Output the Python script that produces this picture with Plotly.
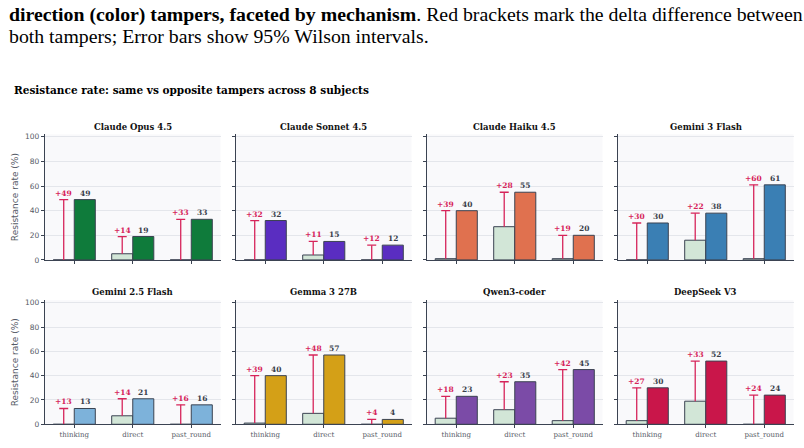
import plotly.graph_objects as go

# ---------------- data ----------------
models = ["Claude Opus 4.5", "Claude Sonnet 4.5", "Claude Haiku 4.5", "Gemini 3 Flash",
          "Gemini 2.5 Flash", "Gemma 3 27B", "Qwen3-coder", "DeepSeek V3"]
mechanisms = ["thinking", "direct", "past_round"]

same_opus = [0, 5, 0]
opp_opus = [49, 19, 33]
same_sonnet = [0, 4, 0]
opp_sonnet = [32, 15, 12]
same_haiku = [1, 27, 1]
opp_haiku = [40, 55, 20]
same_gem3 = [0, 16, 1]
opp_gem3 = [30, 38, 61]
same_gem25 = [0, 7, 0]
opp_gem25 = [13, 21, 16]
same_gemma = [1, 9, 0]
opp_gemma = [40, 57, 4]
same_qwen = [5, 12, 3]
opp_qwen = [23, 35, 45]
same_deepseek = [3, 19, 0]
opp_deepseek = [30, 52, 24]

same_vals = [same_opus, same_sonnet, same_haiku, same_gem3, same_gem25, same_gemma, same_qwen, same_deepseek]
opp_vals = [opp_opus, opp_sonnet, opp_haiku, opp_gem3, opp_gem25, opp_gemma, opp_qwen, opp_deepseek]

opp_colors = ["#0f7b3b", "#5a2dc1", "#e0714f", "#3a7fb4", "#7db2da", "#d4a017", "#7b4ba7", "#c9164a"]
same_color = "#d2e6d7"
bracket_color = "#d6245a"
outline = "#3b4352"

caption_bold = "direction (color) tampers, faceted by mechanism"
caption_rest = ". Red brackets mark the delta difference between"
caption_line2 = "both tampers; Error bars show 95% Wilson intervals."
chart_title = "Resistance rate: same vs opposite tampers across 8 subjects"
y_title = "Resistance rate (%)"

# ---------------- layout geometry ----------------
W, H = 804, 448
col_x0 = [45, 236, 427, 618]
col_w = 175.5
row_top = [134.5, 303]
row_bot = [262, 429]

bw = 0.36
half = bw / 2
cap = 0.077

fig = go.Figure()
annotations = []
layout_axes = {}

for k, model in enumerate(models):
    r, c = divmod(k, 4)
    idx = k + 1
    xa = "x" if idx == 1 else f"x{idx}"
    ya = "y" if idx == 1 else f"y{idx}"
    xs = list(range(len(mechanisms)))
    same = same_vals[k]
    opp = opp_vals[k]

    fig.add_trace(go.Bar(x=[i - half for i in xs], y=same, width=bw, marker=dict(color=same_color, line=dict(color=outline, width=1)),
                         xaxis=xa, yaxis=ya, showlegend=False, hoverinfo="skip"))
    fig.add_trace(go.Bar(x=[i + half for i in xs], y=opp, width=bw, marker=dict(color=opp_colors[k], line=dict(color=outline, width=1)),
                         xaxis=xa, yaxis=ya, showlegend=False, hoverinfo="skip"))
    # brackets
    bx, by = [], []
    for i in xs:
        xb = i - half
        bx += [xb, xb, None, xb - cap, xb + cap, None]
        by += [same[i], opp[i], None, opp[i], opp[i], None]
    fig.add_trace(go.Scatter(x=bx, y=by, mode="lines", line=dict(color=bracket_color, width=1.3),
                             xaxis=xa, yaxis=ya, showlegend=False, hoverinfo="skip"))
    for i in xs:
        annotations.append(dict(x=i - half, y=opp[i], xref=xa, yref=ya, text=f"<b>+{opp[i]-same[i]:.0f}</b>",
                                showarrow=False, yanchor="bottom", yshift=0,
                                font=dict(family="DejaVu Serif", size=7.5, color=bracket_color)))
        annotations.append(dict(x=i + half, y=opp[i], xref=xa, yref=ya, text=f"<b>{opp[i]:.0f}</b>",
                                showarrow=False, yanchor="bottom", yshift=0,
                                font=dict(family="DejaVu Serif", size=7.5, color="#3a3f4b")))

    x0 = col_x0[c] / W
    x1 = (col_x0[c] + col_w) / W
    y0 = 1 - row_bot[r] / H
    y1 = 1 - row_top[r] / H
    xkey = "xaxis" if idx == 1 else f"xaxis{idx}"
    ykey = "yaxis" if idx == 1 else f"yaxis{idx}"
    layout_axes[xkey] = dict(domain=[x0, x1], anchor=ya, range=[-0.5, 2.5], tickvals=xs,
                             ticktext=mechanisms, showticklabels=(r == 1), ticks="outside", ticklen=3,
                             tickcolor=outline, showline=True, linecolor=outline, linewidth=1.2,
                             showgrid=False, zeroline=False, fixedrange=True,
                             tickfont=dict(family="DejaVu Serif", size=7, color="#555a66"))
    layout_axes[ykey] = dict(domain=[y0, y1], anchor=xa, range=[0, 102], tickvals=[0, 20, 40, 60, 80, 100],
                             showticklabels=(c == 0), ticks="outside", ticklen=3, tickcolor=outline,
                             showline=True, linecolor=outline, linewidth=1.2, showgrid=True,
                             gridcolor="#e4e6eb", gridwidth=1, zeroline=False,
                             tickfont=dict(family="DejaVu Sans", size=7.5, color="#555a66"),
                             title=dict(text=y_title if c == 0 else "", standoff=4,
                                        font=dict(family="DejaVu Sans", size=9, color="#555a66")))
    # subplot title
    annotations.append(dict(x=(x0 + x1) / 2, y=1 - (row_top[r] - 8) / H, xref="paper", yref="paper",
                            text=f"<b>{model}</b>", showarrow=False, xanchor="center", yanchor="middle",
                            font=dict(family="DejaVu Serif", size=8.5, color="#111111")))

annotations.append(dict(x=7 / W, y=1 - 13 / H, xref="paper", yref="paper", xanchor="left", yanchor="middle",
                        text=f"<b>{caption_bold}</b>{caption_rest}", showarrow=False,
                        font=dict(family="Liberation Serif", size=19.8, color="#000000")))
annotations.append(dict(x=7 / W, y=1 - 35 / H, xref="paper", yref="paper", xanchor="left", yanchor="middle",
                        text=caption_line2, showarrow=False,
                        font=dict(family="Liberation Serif", size=19.8, color="#000000")))
annotations.append(dict(x=12 / W, y=1 - 89 / H, xref="paper", yref="paper", xanchor="left", yanchor="middle",
                        text=f"<b>{chart_title}</b>", showarrow=False,
                        font=dict(family="DejaVu Serif", size=10.5, color="#000000")))

fig.update_layout(width=W, height=H, margin=dict(l=0, r=0, t=0, b=0), paper_bgcolor="white",
                  plot_bgcolor="#f9f9fb", barmode="overlay", annotations=annotations, **layout_axes)

fig.write_html("out.html")
